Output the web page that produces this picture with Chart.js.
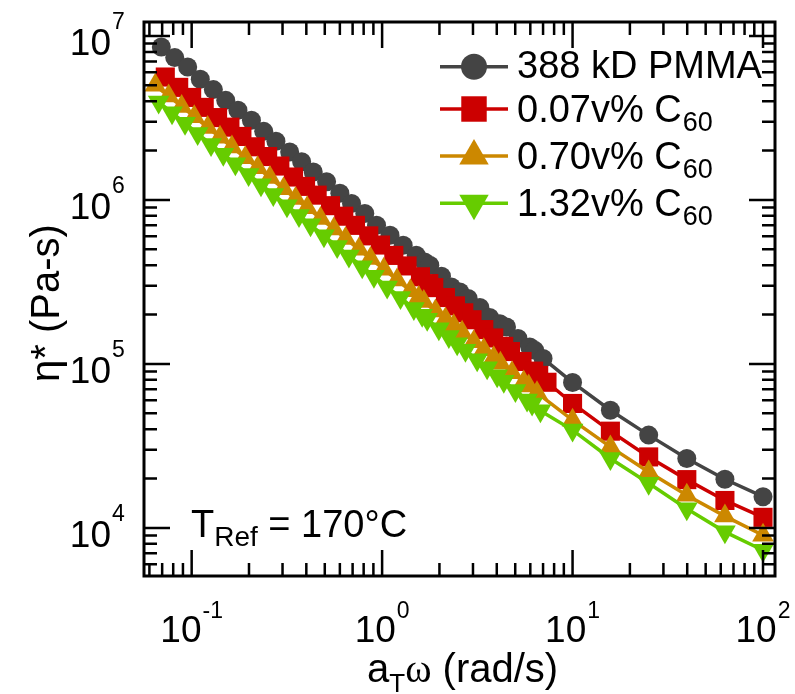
<!DOCTYPE html>
<html>
<head>
<meta charset="utf-8">
<script src="https://cdn.jsdelivr.net/npm/chart.js"></script>
<style>
  body { margin: 0; background: #fff; }
  canvas { display: block; }
</style>
</head>
<body>
<canvas id="myChart" width="795" height="694"></canvas>
<script>
// a_T*omega (rad/s) and eta* (Pa-s)
let freqPMMA = [0.0693, 0.0815, 0.0953, 0.111, 0.130, 0.151, 0.175, 0.206, 0.239, 0.277, 0.327, 0.378, 0.435, 0.511, 0.600,
                0.691, 0.811, 0.935, 1.10, 1.29, 1.51, 1.67, 1.78, 2.05, 2.31, 2.56, 2.83, 3.26, 3.67, 4.15, 4.50, 5.17, 5.96, 6.33, 7.00,
                10.0, 15.8, 25.1, 39.8, 63.1, 100];
let etaPMMA = [8.57e6, 7.38e6, 6.47e6, 5.45e6, 4.71e6, 4.05e6, 3.52e6, 3.06e6, 2.62e6, 2.28e6, 1.96e6, 1.71e6, 1.48e6, 1.29e6, 1.10e6,
               9.51e5, 8.26e5, 7.01e5, 6.09e5, 5.30e5, 4.60e5, 4.19e5, 4.00e5, 3.43e5, 2.95e5, 2.75e5, 2.51e5, 2.21e5, 1.92e5, 1.76e5, 1.68e5, 1.43e5, 1.27e5, 1.21e5, 1.08e5,
               7.71e4, 5.22e4, 3.68e4, 2.65e4, 1.98e4, 1.55e4];

let freq007 = [0.0727, 0.0855, 0.100, 0.1164, 0.1368, 0.1588, 0.1836, 0.2157, 0.2506, 0.2904, 0.3427, 0.3963, 0.456, 0.536, 0.629,
               0.7245, 0.851, 0.981, 1.152, 1.352, 1.59, 1.758, 1.867, 2.151, 2.427, 2.684, 2.965, 3.418, 3.855, 4.35, 4.72, 5.43, 6.25, 6.64, 7.34,
               10.0, 15.8, 25.1, 39.8, 63.1, 100];
let eta007 = [5.62e6, 4.86e6, 4.22e6, 3.67e6, 3.18e6, 2.78e6, 2.44e6, 2.11e6, 1.84e6, 1.61e6, 1.38e6, 1.21e6, 1.07e6, 9.23e5, 7.96e5,
              7.00e5, 6.04e5, 5.31e5, 4.59e5, 3.96e5, 3.40e5, 3.09e5, 2.92e5, 2.54e5, 2.26e5, 2.05e5, 1.86e5, 1.62e5, 1.44e5, 1.28e5, 1.19e5, 1.035e5, 9.04e4, 8.51e4, 7.73e4,
              5.74e4, 3.89e4, 2.71e4, 1.97e4, 1.47e4, 1.16e4];

let freq070 = [0.0644, 0.0757, 0.0886, 0.1032, 0.1213, 0.1408, 0.1627, 0.191, 0.222, 0.2576, 0.304, 0.3513, 0.4042, 0.475, 0.558,
               0.6427, 0.7548, 0.8693, 1.021, 1.198, 1.409, 1.557, 1.655, 1.906, 2.151, 2.378, 2.63, 3.028, 3.418, 3.855, 4.18, 4.81, 5.54, 5.885, 6.505,
               10.0, 15.8, 25.1, 39.8, 63.1, 100];
let eta070 = [5.00e6, 4.30e6, 3.72e6, 3.22e6, 2.77e6, 2.41e6, 2.10e6, 1.81e6, 1.57e6, 1.37e6, 1.17e6, 1.02e6, 8.97e5, 7.72e5, 6.64e5,
              5.82e5, 5.00e5, 4.39e5, 3.78e5, 3.25e5, 2.79e5, 2.54e5, 2.40e5, 2.10e5, 1.88e5, 1.71e5, 1.56e5, 1.365e5, 1.22e5, 1.09e5, 1.01e5, 8.85e4, 7.77e4, 7.33e4, 6.67e4,
              4.54e4, 3.12e4, 2.19e4, 1.58e4, 1.18e4, 9.02e3];

let freq132 = [0.0671, 0.0789, 0.0923, 0.1075, 0.1264, 0.1466, 0.1696, 0.1991, 0.2312, 0.2683, 0.3166, 0.3661, 0.421, 0.495, 0.581,
               0.6695, 0.7861, 0.906, 1.063, 1.249, 1.468, 1.623, 1.725, 1.986, 2.241, 2.478, 2.739, 3.155, 3.56, 4.02, 4.355, 5.01, 5.77, 6.13, 6.78,
               10.0, 15.8, 25.1, 39.8, 63.1, 100];
let eta132 = [3.96e6, 3.40e6, 2.94e6, 2.54e6, 2.18e6, 1.90e6, 1.66e6, 1.43e6, 1.24e6, 1.08e6, 9.23e5, 8.04e5, 7.05e5, 6.05e5, 5.21e5,
              4.56e5, 3.92e5, 3.43e5, 2.95e5, 2.54e5, 2.18e5, 1.98e5, 1.87e5, 1.64e5, 1.47e5, 1.33e5, 1.21e5, 1.06e5, 9.48e4, 8.47e4, 7.85e4, 6.89e4, 6.03e4, 5.70e4, 5.18e4,
              3.95e4, 2.65e4, 1.87e4, 1.31e4, 9.46e3, 7.31e3];

let seriesNames = ['388 kD PMMA', '0.07v% C', '0.70v% C', '1.32v% C'];
let seriesSubs = ['', '60', '60', '60'];
let xTickExps = ['-1', '0', '1', '2'];
let yTickExps = ['4', '5', '6', '7'];

const FONT = "Arial, 'Liberation Sans', sans-serif";
const SERIF = "'Liberation Serif', 'Times New Roman', serif";

function pts(xs, ys) {
    return xs.map((x, i) => ({ x: x, y: ys[i] }));
}

function series(i, xs, ys, color, style, radius, rot) {
    return {
        label: seriesNames[i],
        data: pts(xs, ys),
        showLine: true,
        borderColor: color,
        backgroundColor: color,
        borderWidth: 3.5,
        pointStyle: style,
        pointRadius: radius,
        pointRotation: rot || 0,
        pointBorderWidth: 0,
        pointBackgroundColor: color,
        clip: false,
        order: 4 - i
    };
}

function txt(ctx, s, x, y, size, align, family) {
    ctx.font = size + 'px ' + (family || FONT);
    ctx.textAlign = align || 'left';
    ctx.fillText(s, x, y);
    return ctx.measureText(s).width;
}

// frame with inward log ticks on all four sides, labels, legend and note
const frame = {
    id: 'frame',
    afterDatasetsDraw(chart) {
        const ctx = chart.ctx, a = chart.chartArea;
        const xs = chart.scales.x, ys = chart.scales.y;
        ctx.save();
        ctx.strokeStyle = '#000';
        ctx.fillStyle = '#000';
        ctx.lineWidth = 2.5;
        ctx.beginPath();
        for (let e = -2; e <= 2; e++) {
            for (let m = 1; m < 10; m++) {
                const v = m * Math.pow(10, e);
                if (v < xs.min || v > xs.max) continue;
                const p = xs.getPixelForValue(v), len = m === 1 ? 26 : 13;
                ctx.moveTo(p, a.bottom); ctx.lineTo(p, a.bottom - len);
                ctx.moveTo(p, a.top); ctx.lineTo(p, a.top + len);
            }
        }
        for (let e = 3; e <= 7; e++) {
            for (let m = 1; m < 10; m++) {
                const v = m * Math.pow(10, e);
                if (v < ys.min || v > ys.max) continue;
                const p = ys.getPixelForValue(v), len = m === 1 ? 26 : 13;
                ctx.moveTo(a.left, p); ctx.lineTo(a.left + len, p);
                ctx.moveTo(a.right, p); ctx.lineTo(a.right - len, p);
            }
        }
        ctx.stroke();
        ctx.lineWidth = 3;
        ctx.strokeRect(a.left, a.top, a.right - a.left, a.bottom - a.top);

        // tick labels
        ctx.textBaseline = 'alphabetic';
        xTickExps.forEach(ex => {
            const p = xs.getPixelForValue(Math.pow(10, +ex));
            ctx.font = '37px ' + FONT;
            const w10 = ctx.measureText('10').width;
            ctx.font = '23px ' + FONT;
            const we = ctx.measureText(ex).width;
            const x0 = p - (w10 + 1 + we) / 2;
            txt(ctx, '10', x0, 642, 37);
            txt(ctx, ex, x0 + w10 + 1, 618, 23);
        });
        yTickExps.forEach(ex => {
            const p = ys.getPixelForValue(Math.pow(10, +ex));
            txt(ctx, '10', 111, p + 19, 37, 'right');
            txt(ctx, ex, 112, p - 7, 23);
        });

        // axis titles
        let x = 367;
        x += txt(ctx, 'a', x, 682, 40);
        x += txt(ctx, 'T', x, 692, 26);
        x += txt(ctx, '\u03c9', x, 682, 40, 'left', SERIF);
        txt(ctx, ' (rad/s)', x, 682, 40);

        ctx.save();
        ctx.translate(48, 303);
        ctx.rotate(-Math.PI / 2);
        ctx.textBaseline = 'middle';
        txt(ctx, '\u03b7* (Pa-s)', 0, 0, 40, 'center');
        ctx.restore();

        // reference temperature note
        x = 191;
        x += txt(ctx, 'T', x, 537, 38);
        x += txt(ctx, 'Ref', x, 546, 28);
        txt(ctx, ' = 170\u00b0C', x, 537, 38);

        // legend
        const rows = [66.7, 109, 156, 203.3];
        const bases = [78, 122, 169, 216];
        const legR = [13, 18, 17, 17];
        chart.data.datasets.forEach((ds, i) => {
            ctx.strokeStyle = ds.borderColor;
            ctx.fillStyle = ds.borderColor;
            ctx.lineWidth = 3.5;
            ctx.beginPath();
            ctx.moveTo(440, rows[i]); ctx.lineTo(508, rows[i]);
            ctx.stroke();
            if (Chart.helpers && Chart.helpers.drawPoint) {
                Chart.helpers.drawPoint(ctx, { pointStyle: ds.pointStyle, rotation: ds.pointRotation, radius: legR[i], borderWidth: 0 }, 474, rows[i]);
            }
            ctx.fillStyle = '#000';
            const w = txt(ctx, ds.label, 517, bases[i], 38);
            if (seriesSubs[i]) txt(ctx, seriesSubs[i], 517 + w + 1, bases[i] + 9, 27);
        });
        ctx.restore();
    }
};

new Chart("myChart", {
    type: "scatter",
    data: {
        datasets: [
            series(0, freqPMMA, etaPMMA, '#444444', 'circle', 9.5),
            series(1, freq007, eta007, '#cc0000', 'rect', 13.5),
            series(2, freq070, eta070, '#cc8800', 'triangle', 12.5),
            series(3, freq132, eta132, '#66cc00', 'triangle', 12.5, 180)
        ]
    },
    options: {
        responsive: false,
        animation: false,
        devicePixelRatio: 1,
        layout: { padding: { left: 144, top: 22, right: 20, bottom: 118 } },
        scales: {
            x: { type: 'logarithmic', display: false, min: 0.0562, max: 115.6 },
            y: { type: 'logarithmic', display: false, min: 5090, max: 1.217e7 }
        },
        plugins: {
            legend: { display: false },
            tooltip: { enabled: false }
        }
    },
    plugins: [frame]
});
</script>
</body>
</html>
